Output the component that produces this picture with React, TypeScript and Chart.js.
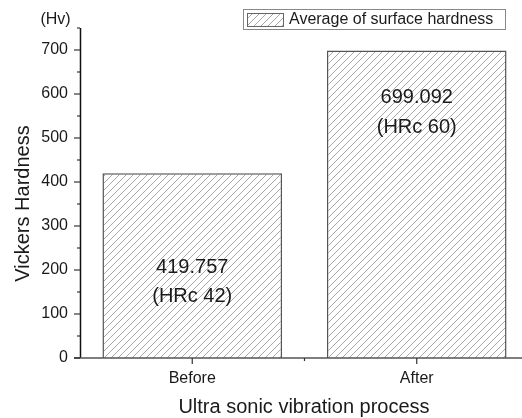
import React, { useEffect, useRef } from "react";
import { Chart, registerables } from "chart.js";

Chart.register(...registerables);

const categories = ["Before", "After"];
const hardnessValues = [419.757, 699.092];
const hrcLabels = ["(HRc 42)", "(HRc 60)"];
const valueLabelAt = [205, 591];
const hrcLabelAt = [139, 523];
const yMajorTicks = [0, 100, 200, 300, 400, 500, 600, 700];
const yMinorTicks = [50, 150, 250, 350, 450, 550, 650, 750];
const seriesLabel = "Average of surface hardness";
const unitLabel = "(Hv)";
const yTitle = "Vickers Hardness";
const xTitle = "Ultra sonic vibration process";

const FONT = "'Liberation Sans', Arial, sans-serif";

function makePattern(): CanvasPattern | string {
  const s = 7;
  const c = document.createElement("canvas");
  c.width = s;
  c.height = s;
  const g = c.getContext("2d");
  if (!g) return "#fff";
  g.fillStyle = "#ffffff";
  g.fillRect(0, 0, s, s);
  g.strokeStyle = "#a8a8a8";
  g.lineWidth = 1;
  g.beginPath();
  g.moveTo(0, s);
  g.lineTo(s, 0);
  g.moveTo(-1, 1);
  g.lineTo(1, -1);
  g.moveTo(s - 1, s + 1);
  g.lineTo(s + 1, s - 1);
  g.stroke();
  const p = g.createPattern(c, "repeat");
  return p || "#fff";
}

export default function App() {
  const ref = useRef<HTMLCanvasElement | null>(null);

  useEffect(() => {
    document.body.style.margin = "0";
    document.body.style.overflow = "hidden";
    const canvas = ref.current;
    if (!canvas) return;
    const pattern = makePattern();

    const decor = {
      id: "decor",
      afterDraw(chart: any) {
        const ctx = chart.ctx as CanvasRenderingContext2D;
        const x = chart.scales.x;
        const y = chart.scales.y;
        const area = chart.chartArea;
        ctx.save();
        // axes lines
        ctx.strokeStyle = "#111";
        ctx.lineWidth = 1.5;
        ctx.beginPath();
        ctx.moveTo(area.left + 0.5, y.getPixelForValue(750));
        ctx.lineTo(area.left + 0.5, area.bottom);
        ctx.stroke();
        ctx.strokeStyle = "#555";
        ctx.beginPath();
        ctx.moveTo(area.left - 6, area.bottom);
        ctx.lineTo(area.right, area.bottom);
        ctx.stroke();
        // y ticks
        ctx.strokeStyle = "#111";
        ctx.lineWidth = 1.2;
        ctx.beginPath();
        yMajorTicks.forEach((v) => {
          const py = y.getPixelForValue(v);
          ctx.moveTo(area.left - 6, py);
          ctx.lineTo(area.left, py);
        });
        yMinorTicks.forEach((v) => {
          const py = y.getPixelForValue(v);
          ctx.moveTo(area.left - 3, py);
          ctx.lineTo(area.left, py);
        });
        ctx.stroke();
        // x ticks
        ctx.strokeStyle = "#333";
        ctx.beginPath();
        categories.forEach((_, i) => {
          const px = x.getPixelForValue(i);
          ctx.moveTo(px, area.bottom);
          ctx.lineTo(px, area.bottom + 6);
        });
        for (let i = 1; i < categories.length; i++) {
          const px = (x.getPixelForValue(i - 1) + x.getPixelForValue(i)) / 2;
          ctx.moveTo(px, area.bottom);
          ctx.lineTo(px, area.bottom + 3);
        }
        ctx.stroke();

        // bar labels
        ctx.fillStyle = "#1a1a1a";
        ctx.font = `20px ${FONT}`;
        ctx.textAlign = "center";
        ctx.textBaseline = "middle";
        hardnessValues.forEach((v, i) => {
          const px = x.getPixelForValue(i);
          ctx.fillText(v.toFixed(3), px, y.getPixelForValue(valueLabelAt[i]));
          ctx.fillText(hrcLabels[i], px, y.getPixelForValue(hrcLabelAt[i]));
        });

        // unit label
        ctx.font = `16px ${FONT}`;
        ctx.fillText(unitLabel, 55.5, 20);

        // y title
        ctx.save();
        ctx.translate(23, 203.5);
        ctx.rotate(-Math.PI / 2);
        ctx.font = `20px ${FONT}`;
        ctx.fillText(yTitle, 0, 0);
        ctx.restore();

        // x title
        ctx.font = `20px ${FONT}`;
        ctx.textBaseline = "alphabetic";
        ctx.fillText(xTitle, 304, 413);

        // legend
        ctx.strokeStyle = "#888";
        ctx.lineWidth = 1;
        ctx.strokeRect(243.5, 9.5, 262, 20);
        ctx.fillStyle = pattern as any;
        ctx.fillRect(247.5, 13.5, 36, 13);
        ctx.strokeStyle = "#666";
        ctx.strokeRect(247.5, 13.5, 36, 13);
        ctx.fillStyle = "#1a1a1a";
        ctx.font = `16px ${FONT}`;
        ctx.textAlign = "left";
        ctx.textBaseline = "middle";
        ctx.fillText(seriesLabel, 289, 20);
        ctx.restore();
      },
    };

    const chart = new Chart(canvas, {
      type: "bar",
      data: {
        labels: categories,
        datasets: [
          {
            label: seriesLabel,
            data: hardnessValues,
            backgroundColor: pattern as any,
            borderColor: "#555",
            borderWidth: 1.5,
            barPercentage: 0.8,
            categoryPercentage: 1,
          },
        ],
      },
      options: {
        responsive: false,
        animation: false,
        layout: { padding: { left: 0, right: 0, top: 28, bottom: 0 } },
        plugins: {
          legend: { display: false },
          tooltip: { enabled: false },
        },
        scales: {
          x: {
            grid: { display: false, drawTicks: false },
            border: { display: false },
            ticks: {
              color: "#1a1a1a",
              font: { family: FONT, size: 16 },
              padding: 11,
            },
            afterFit: (s: any) => {
              s.height = 60;
            },
          },
          y: {
            min: 0,
            max: 750,
            grid: { display: false, drawTicks: false },
            border: { display: false },
            afterBuildTicks: (s: any) => {
              s.ticks = yMajorTicks.map((v) => ({ value: v }));
            },
            ticks: {
              color: "#1a1a1a",
              font: { family: FONT, size: 16 },
              padding: 12,
            },
            afterFit: (s: any) => {
              s.width = 80;
            },
          },
        },
      },
      plugins: [decor],
    });
    return () => chart.destroy();
  }, []);

  return (
    <div style={{ position: "fixed", left: 0, top: 0, width: 529, height: 418 }}>
      <canvas ref={ref} width={529} height={418} />
    </div>
  );
}
